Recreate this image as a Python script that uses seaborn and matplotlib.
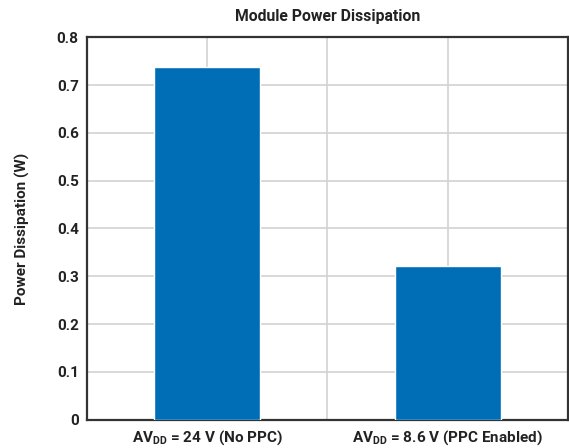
import matplotlib
matplotlib.use("Agg")
import matplotlib.pyplot as plt
import seaborn as sns
import pandas as pd

categories = ["AV$_{\\mathbf{DD}}$ = 24 V (No PPC)", "AV$_{\\mathbf{DD}}$ = 8.6 V (PPC Enabled)"]
values = [0.737, 0.322]
yticks = [0, 0.1, 0.2, 0.3, 0.4, 0.5, 0.6, 0.7, 0.8]
ytick_labels = ["0", "0.1", "0.2", "0.3", "0.4", "0.5", "0.6", "0.7", "0.8"]

sns.set_theme(style="white")
plt.rcParams['font.family'] = ['Roboto', 'DejaVu Sans']
plt.rcParams['mathtext.fontset'] = 'custom'
plt.rcParams['mathtext.rm'] = 'Roboto:bold'
plt.rcParams['mathtext.bf'] = 'Roboto:bold'
plt.rcParams['mathtext.it'] = 'Roboto:bold'

df = pd.DataFrame({"cat": categories, "val": values})

fig = plt.figure(figsize=(5.69, 4.48), dpi=100)
ax = fig.add_axes([0.153, 0.063, 0.845, 0.854])
sns.barplot(data=df, x="cat", y="val", color="#006EB6", saturation=1, width=0.44, ax=ax, zorder=3)

ax.set_xlim(-0.5, 1.5)
ax.set_ylim(0, 0.8)
ax.set_yticks(yticks)
ax.set_yticklabels(ytick_labels, fontsize=11, fontweight="bold", color="#222222")
ax.set_xticks([-0.5, 0, 0.5, 1, 1.5], minor=False)
ax.set_xticklabels(["", categories[0], "", categories[1], ""], fontsize=11, fontweight="bold", color="#222222")
ax.tick_params(axis="both", length=0, pad=6)
ax.grid(True, axis="both", color="#d2d2d2", linewidth=1.2, zorder=0)
ax.set_axisbelow(True)
for s in ax.spines.values():
    s.set_color("#333333")
    s.set_linewidth(1.6)
ax.set_xlabel("")
ax.set_ylabel("Power Dissipation (W)", fontsize=11, fontweight="bold", color="#222222", labelpad=19)
ax.set_title("Module Power Dissipation", fontsize=11.3, fontweight="bold", color="#222222", pad=12)

fig.savefig("out.png", dpi=100)
